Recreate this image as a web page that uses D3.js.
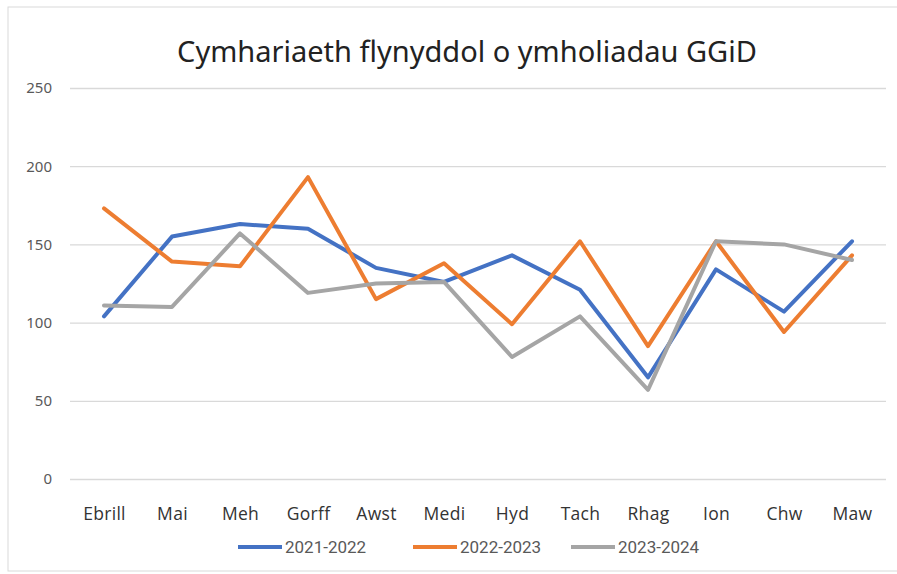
<!DOCTYPE html>
<html><head><meta charset="utf-8">
<script src="https://cdn.jsdelivr.net/npm/d3@7"></script>
<style>body{margin:0;background:#fff}svg{display:block}</style>
</head><body>
<svg id="c" width="897" height="574"></svg>
<script>
const months = ["Ebrill","Mai","Meh","Gorff","Awst","Medi","Hyd","Tach","Rhag","Ion","Chw","Maw"];
const s2021 = [104,155,163,160,135,126,143,121,65,134,107,152];
const s2022 = [173,139,136,193,115,138,99,152,85,152,94,143];
const s2023 = [111,110,157,119,125,126,78,104,57,152,150,140];
const seriesNames = ["2021-2022","2022-2023","2023-2024"];
const colors = ["#4472C4","#ED7D31","#A5A5A5"];
const yTicks = [0,50,100,150,200,250];
const title = "Cymhariaeth flynyddol o ymholiadau GGiD";

const svg = d3.select("#c");
svg.append("rect").attr("x",8).attr("y",7).attr("width",920).attr("height",564)
  .attr("fill","#fff").attr("stroke","#d9d9d9").attr("stroke-width",1);

const x = d3.scalePoint().domain(months).range([104,852]);
const y = d3.scaleLinear().domain([0,250]).range([479,88]);

svg.append("text").attr("x",467).attr("y",62).attr("text-anchor","middle")
  .attr("font-family","'Noto Sans', 'Open Sans', sans-serif").attr("font-size",29)
  .attr("fill","#222").text(title);

const yAxis = svg.append("g").attr("transform","translate(70,0)")
  .call(d3.axisLeft(y).tickValues(yTicks).tickSize(-816).tickFormat(d3.format("d")));
yAxis.select(".domain").remove();
yAxis.selectAll(".tick line").attr("stroke","#d9d9d9").attr("stroke-width",1.3);
yAxis.selectAll(".tick text").attr("x",-18).attr("fill","#595959")
  .attr("font-family","'Noto Sans', sans-serif").attr("font-size",15);

const xAxis = svg.append("g").attr("transform","translate(0,479)")
  .call(d3.axisBottom(x).tickSize(0).tickPadding(29));
xAxis.select(".domain").remove();
xAxis.selectAll(".tick text").attr("fill","#333")
  .attr("font-family","'Open Sans', sans-serif").attr("font-size",17.5).attr("letter-spacing",0.3);

const line = d3.line().x((d,i)=>x(months[i])).y(d=>y(d));
[s2021,s2022,s2023].forEach((s,k)=>{
  svg.append("path").datum(s).attr("d",line).attr("fill","none")
    .attr("stroke",colors[k]).attr("stroke-width",4).attr("stroke-linejoin","round").attr("stroke-linecap","round");
});

const legX = [238,413,571];
const leg = svg.append("g");
seriesNames.forEach((n,k)=>{
  const g = leg.append("g").attr("transform",`translate(${legX[k]},547)`);
  g.append("line").attr("x1",0).attr("x2",44).attr("y1",0).attr("y2",0)
    .attr("stroke",colors[k]).attr("stroke-width",4);
  g.append("text").attr("x",47).attr("y",6).attr("fill","#595959")
    .attr("font-family","'Roboto', sans-serif").attr("font-size",17).text(n);
});
</script>
</body></html>
